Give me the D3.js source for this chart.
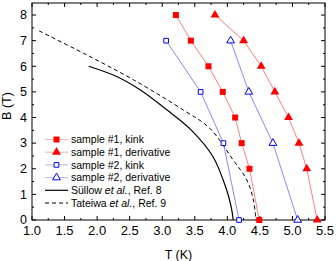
<!DOCTYPE html>
<html>
<head>
<meta charset="utf-8">
<script src="https://cdn.jsdelivr.net/npm/d3@7"></script>
<style>
  body { margin: 0; background: #fff; }
  svg { font-family: "Liberation Sans", Arial, sans-serif; }
</style>
</head>
<body>
<svg width="336" height="261"></svg>
<script>
// sample #1 / #2 points: [T, B]
const s1Kink = [[3.21, 8], [3.44, 7], [3.71, 6], [3.93, 5], [4.12, 4], [4.22, 3], [4.34, 2], [4.49, 0]]
const s1Deriv = [[3.81, 8], [4.25, 7], [4.52, 6], [4.73, 5], [4.94, 4], [5.10, 3], [5.22, 2], [5.38, 0]]
const s2Kink = [[3.06, 7], [3.59, 5], [3.94, 3], [4.18, 0]]
const s2Deriv = [[4.05, 7], [4.33, 5], [4.70, 3], [5.08, 0]]
// literature curves
const sullow = [[1.87, 6.0], [2.30, 5.6], [2.66, 5.08], [3.07, 4.3], [3.45, 3.5], [3.78, 2.47], [3.99, 1.17], [4.06, 0.5], [4.09, 0]]
const tateiwa = [[1.11, 7.38], [1.79, 6.51], [2.56, 5.47], [3.32, 4.30], [3.73, 3.58], [4.09, 2.34], [4.30, 1.56], [4.40, 0.78], [4.44, 0]]

const xTicks = [1.0, 1.5, 2.0, 2.5, 3.0, 3.5, 4.0, 4.5, 5.0, 5.5]
const yTicks = [0, 1, 2, 3, 4, 5, 6, 7, 8]

const svg = d3.select('svg')
const m = {left: 32, right: 11, top: 3, bottom: 41}
const W = 336, H = 261

const x = d3.scaleLinear().domain([1.0, 5.5]).range([m.left, W - m.right])
const y = d3.scaleLinear().domain([0, 8.47]).range([H - m.bottom, m.top])

const red = '#ff0000', blue = '#0000ff'

// frame
svg.append('rect').attr('x', x(1.0)).attr('y', y(8.47))
    .attr('width', x(5.5) - x(1.0)).attr('height', y(0) - y(8.47))
    .attr('fill', 'none').attr('stroke', '#000').attr('stroke-width', 1)

// ticks, all pointing inward
const minorX = d3.range(1.0, 5.51, 0.25)
const minorY = d3.range(0, 8.47, 0.5)
const tk = svg.append('g').attr('stroke', '#000').attr('stroke-width', 1)
minorX.forEach(v => {
    const len = Math.abs(v * 2 - Math.round(v * 2)) < 1e-6 ? 4 : 2
    tk.append('line').attr('x1', x(v)).attr('x2', x(v)).attr('y1', y(0)).attr('y2', y(0) - len)
    tk.append('line').attr('x1', x(v)).attr('x2', x(v)).attr('y1', y(8.47)).attr('y2', y(8.47) + len)
})
minorY.forEach(v => {
    const len = Math.abs(v - Math.round(v)) < 1e-6 ? 4 : 2
    tk.append('line').attr('x1', x(1.0)).attr('x2', x(1.0) + len).attr('y1', y(v)).attr('y2', y(v))
    tk.append('line').attr('x1', x(5.5)).attr('x2', x(5.5) - len).attr('y1', y(v)).attr('y2', y(v))
})

// tick labels
svg.append('g').selectAll('text').data(xTicks).enter().append('text')
    .attr('x', d => x(d)).attr('y', y(0) + 14.5).attr('text-anchor', 'middle')
    .attr('font-size', 13).text(d => d.toFixed(1))
svg.append('g').selectAll('text').data(yTicks).enter().append('text')
    .attr('x', x(1.0) - 5).attr('y', d => y(d) + 4.3).attr('text-anchor', 'end')
    .attr('font-size', 12.5).text(d => d)

svg.append('text').attr('x', (x(1.0) + x(5.5)) / 2).attr('y', 258.5).attr('text-anchor', 'middle')
    .attr('font-size', 12.5).text('T (K)')
svg.append('text').attr('transform', 'translate(10.5, 106) rotate(-90)').attr('text-anchor', 'middle')
    .attr('font-size', 12.5).text('B (T)')

// curves
const line = d3.line().x(d => x(d[0])).y(d => y(d[1]))
const smooth = d3.line().x(d => x(d[0])).y(d => y(d[1])).curve(d3.curveCatmullRom)

svg.append('path').attr('d', smooth(sullow)).attr('fill', 'none').attr('stroke', '#000').attr('stroke-width', 1.2)
svg.append('path').attr('d', smooth(tateiwa)).attr('fill', 'none').attr('stroke', '#000')
    .attr('stroke-width', 1).attr('stroke-dasharray', '4,3')

const series = [
    {data: s1Kink, color: red, lc: '#ff6060', sym: d3.symbolSquare, fill: true, size: 36},
    {data: s1Deriv, color: red, lc: '#ff6060', sym: d3.symbolTriangle, fill: true, size: 34},
    {data: s2Kink, color: blue, lc: '#6a6aff', sym: d3.symbolSquare, fill: false, size: 22},
    {data: s2Deriv, color: blue, lc: '#6a6aff', sym: d3.symbolTriangle, fill: false, size: 26}
]

series.forEach(s => {
    svg.append('path').attr('d', line(s.data)).attr('fill', 'none').attr('stroke', s.lc).attr('stroke-width', 0.8)
    svg.append('g').selectAll('path').data(s.data).enter().append('path')
        .attr('d', d3.symbol().type(s.sym).size(s.size))
        .attr('transform', d => `translate(${x(d[0])},${y(d[1])})`)
        .attr('fill', s.fill ? s.color : '#fff').attr('stroke', s.color).attr('stroke-width', s.fill ? 0 : 1)
})

// legend
const legendRows = [
    {label: ['sample #1, kink'], s: series[0]},
    {label: ['sample #1, derivative'], s: series[1]},
    {label: ['sample #2, kink'], s: series[2]},
    {label: ['sample #2, derivative'], s: series[3]},
    {label: ['Süllow ', 'et al.', ', Ref. 8'], solid: true},
    {label: ['Tateiwa ', 'et al.', ', Ref. 9'], dashed: true}
]
const lg = svg.append('g')
legendRows.forEach((r, i) => {
    const yy = 139.5 + i * 12.7
    const x1 = 45, x2 = 68
    if (r.s) {
        lg.append('line').attr('x1', x1).attr('x2', x2).attr('y1', yy).attr('y2', yy)
            .attr('stroke', r.s.lc).attr('stroke-width', 0.8).attr('opacity', 0.6)
        lg.append('path').attr('d', d3.symbol().type(r.s.sym).size(r.s.size))
            .attr('transform', `translate(${(x1 + x2) / 2},${yy})`)
            .attr('fill', r.s.fill ? r.s.color : '#fff').attr('stroke', r.s.color).attr('stroke-width', r.s.fill ? 0 : 1)
    } else {
        lg.append('line').attr('x1', x1).attr('x2', x2).attr('y1', yy).attr('y2', yy)
            .attr('stroke', '#000').attr('stroke-width', r.solid ? 1.2 : 1)
            .attr('stroke-dasharray', r.dashed ? '4,3' : null)
    }
    const t = lg.append('text').attr('x', 71).attr('y', yy + 3.7).attr('font-size', 10.5)
    r.label.forEach((p, j) => {
        t.append('tspan').attr('font-style', j === 1 ? 'italic' : 'normal').text(p)
    })
})
</script>
</body>
</html>
